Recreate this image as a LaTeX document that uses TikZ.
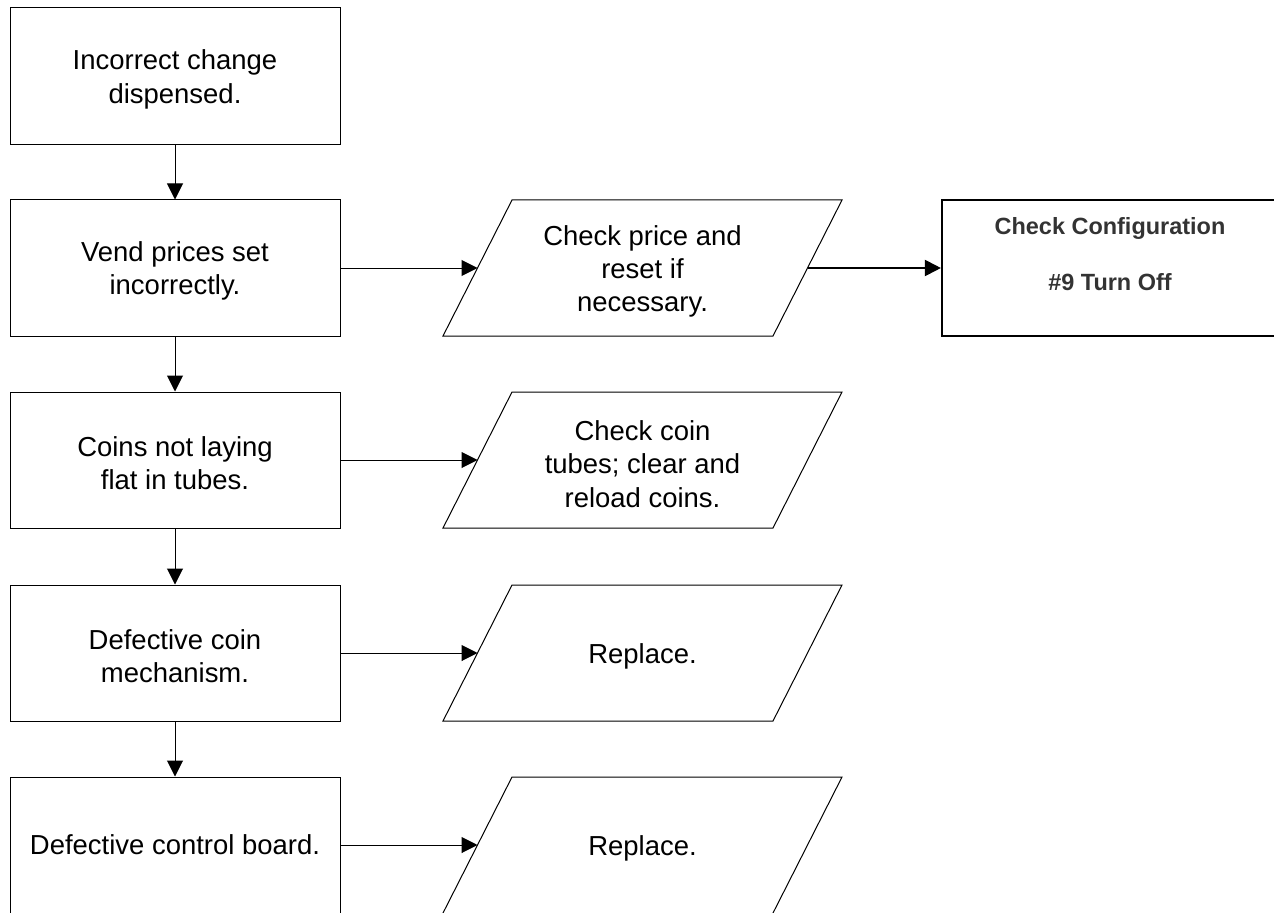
\documentclass[tikz,border=0pt]{standalone}
\usepackage{fontspec}
\setmainfont{Liberation Sans}
\usetikzlibrary{arrows.meta}
\tikzset{
  leftbox/.style={draw=black, line width=0.75pt, rectangle, inner sep=0pt,
    minimum width=247.5pt, minimum height=102pt},
  boxtext/.style={inner sep=0pt, align=center, yshift=-2.25pt,
    font=\fontsize{20.6}{25}\selectfont},
  parashape/.style={draw=black, line width=0.75pt, line join=miter},
  arr/.style={draw=black, line width=0.75pt, -{Triangle[length=12pt, width=12pt]}},
  thickarr/.style={draw=black, line width=1.5pt, -{Triangle[length=12pt, width=12pt]}},
  cfgbox/.style={draw=black, line width=1.6pt, rectangle, inner sep=0pt,
    minimum width=253.5pt, minimum height=102pt},
  cfgtext/.style={inner sep=0pt, align=center, text=black!80,
    font=\fontsize{17.6}{21}\selectfont\bfseries}
}
\begin{document}
\begin{tikzpicture}[x=0.75pt, y=-0.75pt]
\useasboundingbox (0,0) rectangle (1274,913);
\clip (0,0) rectangle (1274,913);

% left column boxes
\node[leftbox, minimum height=102.75pt] (b1) at (175,76.5) {};
\node[boxtext] (b1t) at (175,76.5) {Incorrect change\\dispensed.};
\node[leftbox] (b2) at (175,268) {};
\node[boxtext] (b2t) at (175,268) {Vend prices set\\incorrectly.};
\node[leftbox] (b3) at (175,460) {};
\node[boxtext] (b3t) at (175,460) {Coins not laying\\flat in tubes.};
\node[leftbox] (b4) at (175,653) {};
\node[boxtext] (b4t) at (175,653) {Defective coin\\mechanism.};
\node[leftbox, minimum height=104.25pt] (b5) at (175,846.5) {};
\node[boxtext] (b5t) at (175,842) {Defective control board.};

% parallelograms
\draw[parashape] (512,200) -- (842,200) -- (773,336) -- (443,336) -- cycle;
\coordinate (p2l) at (477.5,268);
\coordinate (p2r) at (807.5,268);
\node[boxtext] (p2) at (642.5,268.5) {Check price and\\reset if\\necessary.};

\draw[parashape] (512,392) -- (842,392) -- (773,528) -- (443,528) -- cycle;
\coordinate (p3l) at (477.5,460);
\node[boxtext] (p3) at (642.5,461) {Check coin\\tubes; clear and\\reload coins.};

\draw[parashape] (512,585) -- (842,585) -- (773,721) -- (443,721) -- cycle;
\coordinate (p4l) at (477.5,653);
\node[boxtext] (p4) at (642.5,653) {Replace.};

\draw[parashape] (512,777) -- (842,777) -- (771.5,916) -- (441.5,916) -- cycle;
\coordinate (p5l) at (477.5,845);
\node[boxtext] (p5) at (642.5,845) {Replace.};

% configuration box
\node[cfgbox] (cfg) at (1111,268) {};
\node[cfgtext] (cfgt) at (1110,254) {Check Configuration\\[21pt]\#9 Turn Off};

% vertical connectors
\draw[arr] (b1.south) -- (b2.north);
\draw[arr] (b2.south) -- (b3.north);
\draw[arr] (b3.south) -- (b4.north);
\draw[arr] (b4.south) -- (b5.north);

% horizontal connectors
\draw[arr] (b2.east) -- (p2l);
\draw[arr] (b3.east) -- (p3l);
\draw[arr] (b4.east) -- (p4l);
\draw[arr] (b5.east |- p5l) -- (p5l);
\draw[thickarr] (p2r) -- (cfg.west);
\end{tikzpicture}
\end{document}
